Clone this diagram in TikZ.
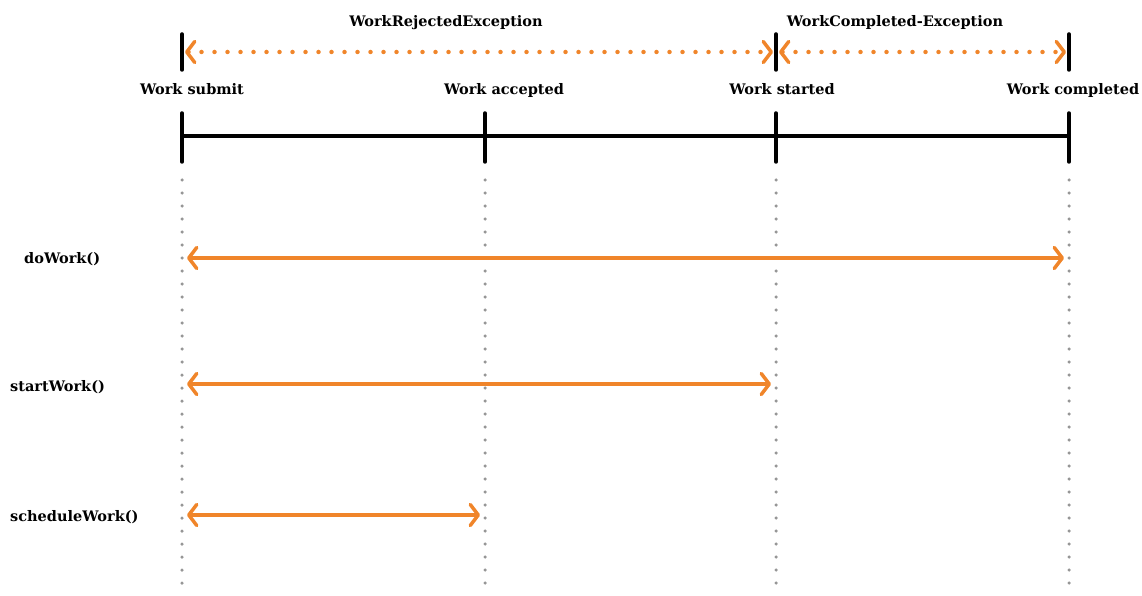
\documentclass[tikz,border=0pt]{standalone}
\usepackage{fontspec}
\setmainfont{DejaVu Serif}
\usetikzlibrary{positioning,arrows.meta}
\tikzset{>=Stealth}
\definecolor{workorange}{RGB}{240,133,42}
\definecolor{dotgray}{RGB}{150,150,150}

\begin{document}
\begin{tikzpicture}[x=1pt,y=-1pt,
    lbl/.style={font=\bfseries\fontsize{14.5}{17}\selectfont, inner sep=0pt, text height=11pt, text depth=3pt},
    chev/.tip={Straight Barb[length=8pt,width=21pt,line width=3.5pt,round]},
    span/.style={workorange, line width=3.5pt, line cap=round, chev-chev, shorten <=5pt, shorten >=5pt},
    excspan/.style={workorange, line width=4.5pt, line cap=round, dash pattern=on 0pt off 13pt, chev-chev, shorten <=3pt, shorten >=3pt},
    tick/.style={line width=3.5pt, line cap=round},
    guide/.style={dotgray, line width=3.5pt, line cap=round, dash pattern=on 0pt off 13pt}]
    \useasboundingbox (0,0) rectangle (1142,596);

    % Time points on the axis
    \coordinate (submit) at (182,136);
    \coordinate (accepted) at (485,136);
    \coordinate (started) at (776,136);
    \coordinate (completed) at (1069,136);

    % Dotted guides
    \foreach \p in {submit, accepted, started, completed} {
        \draw[guide] ([yshift=-44pt]\p) -- ([yshift=-454pt]\p);
    }

    % Main axis
    \draw[tick] (submit) -- (completed);
    \foreach \p in {submit, accepted, started, completed} {
        \draw[tick] ([yshift=23pt]\p) -- ([yshift=-26pt]\p);
    }
    \node[lbl] (lsubmit) at (192,91) {Work submit};
    \node[lbl] (laccepted) at (504,91) {Work accepted};
    \node[lbl] (lstarted) at (782,91) {Work started};
    \node[lbl] (lcompleted) at (1073,91) {Work completed};

    % Exception ranges
    \coordinate (esubmit) at (182,52);
    \coordinate (estarted) at (776,52);
    \coordinate (ecompleted) at (1069,52);
    \foreach \p in {esubmit, estarted, ecompleted} {
        \draw[tick] ([yshift=18pt]\p) -- ([yshift=-18pt]\p);
    }
    \draw[excspan] (esubmit) -- (estarted);
    \draw[excspan] (estarted) -- (ecompleted);
    \node[lbl] (lrejected) at (446,23) {WorkRejectedException};
    \node[lbl] (lcompexc) at (895,23) {WorkCompleted-Exception};

    % Methods
    \node[lbl, anchor=west] (dowork) at (24,259) {doWork()};
    \node[lbl, anchor=west] (startwork) at (10,387) {startWork()};
    \node[lbl, anchor=west] (schedwork) at (10,517) {scheduleWork()};

    \coordinate (d1) at (182,258);
    \coordinate (d2) at (1069,258);
    \coordinate (s1) at (182,384);
    \coordinate (s2) at (776,384);
    \coordinate (w1) at (182,515);
    \coordinate (w2) at (485,515);
    \draw[span] (d1) -- (d2);
    \draw[span] (s1) -- (s2);
    \draw[span] (w1) -- (w2);
\end{tikzpicture}
\end{document}
